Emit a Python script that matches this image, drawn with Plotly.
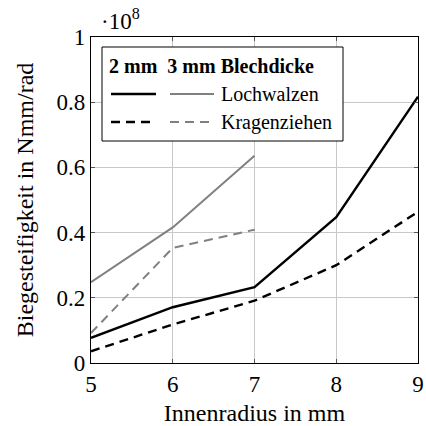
import plotly.graph_objects as go

radius = [5, 6, 7, 8, 9]
lochwalzen_2mm = [0.077, 0.171, 0.233, 0.447, 0.817]
kragenziehen_2mm = [0.036, 0.118, 0.191, 0.300, 0.464]
radius_3mm = [5, 6, 7]
lochwalzen_3mm = [0.248, 0.416, 0.636]
kragenziehen_3mm = [0.092, 0.353, 0.409]

x_ticks = [5, 6, 7, 8, 9]
y_ticks = [0, 0.2, 0.4, 0.6, 0.8, 1]
y_tick_labels = ["0", "0.2", "0.4", "0.6", "0.8", "1"]

FONT = "Liberation Serif, serif"
GRAY = "#808080"
DASH = "9px,6px"

fig = go.Figure()
fig.add_trace(go.Scatter(x=radius_3mm, y=lochwalzen_3mm, mode="lines",
                         line=dict(color=GRAY, width=2)))
fig.add_trace(go.Scatter(x=radius_3mm, y=kragenziehen_3mm, mode="lines",
                         line=dict(color=GRAY, width=2, dash=DASH)))
fig.add_trace(go.Scatter(x=radius, y=lochwalzen_2mm, mode="lines",
                         line=dict(color="black", width=2.4)))
fig.add_trace(go.Scatter(x=radius, y=kragenziehen_2mm, mode="lines",
                         line=dict(color="black", width=2.4, dash=DASH)))

L, R, T, B = 91, 8, 37, 63
W = 426 - L - R
H = 426 - T - B

def px(x):
    return (x - L) / W

def py(y):
    return (426 - B - y) / H

shapes = []
annotations = []
shapes.append(dict(type="rect", xref="paper", yref="paper",
                   x0=px(102), x1=px(343), y0=py(141), y1=py(47),
                   line=dict(color="black", width=1), fillcolor="white", layer="above"))

def seg(x0, x1, y, color, width, dash):
    shapes.append(dict(type="line", xref="paper", yref="paper",
                       x0=px(x0), x1=px(x1), y0=py(y), y1=py(y),
                       line=dict(color=color, width=width, dash=dash), layer="above"))

seg(111, 156, 94, "black", 2.4, "solid")
seg(170, 214, 94, GRAY, 2, "solid")
seg(111, 156, 122, "black", 2.4, DASH)
seg(170, 215, 122, GRAY, 2, DASH)

annotations.append(dict(xref="paper", yref="paper", x=px(107), y=py(66),
                        xanchor="left", yanchor="middle", showarrow=False,
                        text="<b>2 mm  3 mm Blechdicke</b>",
                        font=dict(family=FONT, size=20, color="black")))
annotations.append(dict(xref="paper", yref="paper", x=px(219), y=py(94),
                        xanchor="left", yanchor="middle", showarrow=False,
                        text="Lochwalzen", font=dict(family=FONT, size=20, color="black")))
annotations.append(dict(xref="paper", yref="paper", x=px(219), y=py(122),
                        xanchor="left", yanchor="middle", showarrow=False,
                        text="Kragenziehen", font=dict(family=FONT, size=20, color="black")))
annotations.append(dict(xref="paper", yref="paper", x=px(99), y=py(19),
                        xanchor="left", yanchor="middle", showarrow=False,
                        text="·10<sup>8</sup>", font=dict(family=FONT, size=23, color="black")))

fig.update_layout(
    width=426, height=426,
    margin=dict(l=L, r=R, t=T, b=B),
    paper_bgcolor="white", plot_bgcolor="white",
    showlegend=False,
    font=dict(family=FONT, size=23, color="black"),
    shapes=shapes, annotations=annotations,
)
fig.update_xaxes(range=[5, 9], tickvals=x_ticks, ticktext=[str(v) for v in x_ticks],
                 automargin=False,
                 showgrid=True, gridcolor="#c8c8c8", gridwidth=1,
                 showline=True, linecolor="black", linewidth=1.2, mirror="ticks",
                 ticks="inside", ticklen=4, tickcolor="#555",
                 zeroline=False,
                 title=dict(text="Innenradius in mm", font=dict(family=FONT, size=24), standoff=10))
fig.update_yaxes(range=[0, 1], tickvals=y_ticks, ticktext=y_tick_labels,
                 automargin=False,
                 showgrid=True, gridcolor="#c8c8c8", gridwidth=1,
                 showline=True, linecolor="black", linewidth=1.2, mirror="ticks",
                 ticks="inside", ticklen=4, tickcolor="#555",
                 zeroline=False,
                 title=dict(text="Biegesteifigkeit in Nmm/rad", font=dict(family=FONT, size=24), standoff=16))

fig.write_html("out.html")
